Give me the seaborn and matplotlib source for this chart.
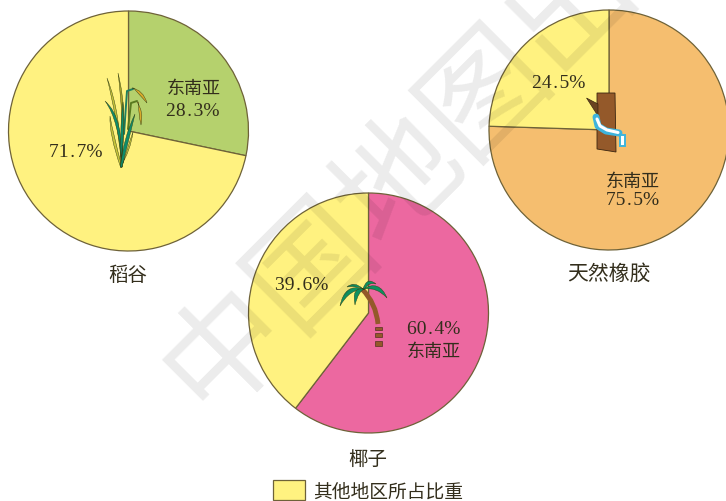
import matplotlib
matplotlib.use("Agg")
import matplotlib.pyplot as plt
import numpy as np
import seaborn as sns
from matplotlib.patches import PathPatch, Polygon
from matplotlib.path import Path

# ---- data ----
crops = ["稻谷", "天然橡胶", "椰子"]
southeast_asia = [28.3, 75.5, 60.4]
other_regions = [71.7, 24.5, 39.6]
sea_label = "东南亚"
legend_label = "其他地区所占比重"
sea_colors = ["#B5D16D", "#F5BE6F", "#EC68A0"]
other_color = "#FFF280"
watermark = "中国地图出版社"

sns.set_theme(style="white")
cjk = ["Noto Sans CJK SC", "DejaVu Sans"]
num = ["Liberation Serif", "Noto Sans CJK SC"]
plt.rcParams["font.family"] = cjk
W, H = 726, 502
ink = "#332E1C"
edge = "#6E6238"

fig = plt.figure(figsize=(W / 100, H / 100), dpi=100, facecolor="white")
centers = [(128.5, 132), (609, 131), (368.5, 314)]
R = 120
legend_wedge = None
for i, (cx, cy) in enumerate(centers):
    ax = fig.add_axes([(cx - R - 2) / W, 1 - (cy + R + 2) / H, (2 * R + 4) / W, (2 * R + 4) / H])
    wedges, _ = ax.pie([southeast_asia[i], other_regions[i]],
                       colors=[sea_colors[i], other_color], startangle=90, counterclock=False,
                       radius=1, wedgeprops=dict(edgecolor=edge, linewidth=0.9))
    ax.set_xlim(-(R + 2) / R, (R + 2) / R)
    ax.set_ylim(-(R + 2) / R, (R + 2) / R)
    legend_wedge = wedges[1]

ov = fig.add_axes([0, 0, 1, 1], facecolor="none")
ov.set_xlim(0, W)
ov.set_ylim(H, 0)
ov.axis("off")


def lab(x, y, s, size=14, fam=num):
    ov.text(x, y, s, ha="center", va="center", fontsize=size, color=ink, family=fam, zorder=6)


def pct(v):
    return f"{v}%".replace(".", "\u200a.\u200a")


def blade(base, ctrl, tip, w, color, z=4):
    b, c, t = map(np.array, (base, ctrl, tip))
    d = t - b
    n = np.array([-d[1], d[0]]) / np.hypot(*d)
    if np.dot(n, c - b) < 0:
        n = -n
    verts = [b, c + n * w, t, c - n * w, b + np.array([1.5, 0]), b]
    codes = [Path.MOVETO, Path.CURVE3, Path.CURVE3, Path.CURVE3, Path.CURVE3, Path.CLOSEPOLY]
    ov.add_patch(PathPatch(Path(verts, codes), fc=color, ec="#2E3A10", lw=0.3, zorder=z))


# rice icon
base = (120.5, 168)
ov.plot([124, 127, 133], [135, 92, 90], color="#1F7F60", lw=1.4, zorder=4)
ov.plot([128, 131, 137], [130, 104, 102], color="#5A7A20", lw=1.4, zorder=4)
for c, t, w, col in [
    ((119, 115), (107, 79), 2.5, "#C4C23A"),
    ((126, 115), (118, 74), 2.5, "#A8A42A"),
    ((111, 135), (110, 117), 2, "#C4C23A"),
    ((129, 150), (133, 133), 2, "#C9C43C"),
    ((122, 120), (105, 102), 3, "#0E8C6A"),
    ((122, 135), (123, 103), 3, "#0E8C6A"),
    ((126, 140), (135, 115), 3, "#0E8C6A"),
]:
    blade(base, c, t, w, col)
blade((132, 89), (141, 93), (147, 104), 3, "#D8A92A", 5)
blade((137, 103), (141, 113), (141, 126), 3, "#D8A92A", 5)

# rubber tree icon
ov.add_patch(Polygon([(597, 94), (615, 94), (616, 153), (597, 150)], fc="#94592A", ec="#3A2510", lw=0.6, zorder=4))
ov.add_patch(Polygon([(586.5, 99), (598, 105), (598, 117)], fc="#6A4420", ec="#2A1A08", lw=0.4, zorder=4))
ov.plot([596, 598, 606, 619], [118, 127, 132, 134], color="#3EB4DC", lw=5, zorder=5, solid_capstyle="round")
ov.plot([597, 600, 607, 618], [120, 127, 131, 133.5], color="white", lw=2.2, zorder=5)
ov.add_patch(Polygon([(619.5, 136), (625, 136), (625, 147), (619.5, 147)], fc="white", ec="#3EB4DC", lw=1.4, zorder=5))

# coconut palm icon
trunk = Path([(362, 290), (376, 304), (378, 325)], [Path.MOVETO, Path.CURVE3, Path.CURVE3])
ov.add_patch(PathPatch(trunk, fc="none", ec="#94592A", lw=3.5, zorder=4))
for y0, y1 in ((328, 331), (334, 338), (342, 347)):
    ov.add_patch(Polygon([(375, y0), (382, y0), (382, y1), (375, y1)], fc="#94592A", ec="#3A2510", lw=0.4, zorder=4))
crown = (363, 290)
for c, t, w in [
    ((347, 287), (340, 307), 4),
    ((355, 290), (355, 306), 4),
    ((378, 284), (387, 299), 4),
    ((354, 284), (347, 288), 2.5),
    ((368, 280), (376, 285), 3),
]:
    blade(crown, c, t, w, "#0E9060")

# annotations
lab(194, 88.5, sea_label, 13, cjk)
lab(193, 111, pct(southeast_asia[0]))
lab(76, 153, pct(other_regions[0]))
lab(559, 83, pct(other_regions[1]))
lab(633, 181.5, sea_label, 13, cjk)
lab(633, 201, pct(southeast_asia[1]))
lab(434, 330, pct(southeast_asia[2]))
lab(434, 351.5, sea_label, 13, cjk)
lab(302, 286, pct(other_regions[2]))
lab(128, 276, crops[0], 14, cjk)
lab(609, 274, crops[1], 15, cjk)
lab(368, 459, crops[2], 14, cjk)

ov.legend([legend_wedge], [legend_label], loc="center", bbox_to_anchor=(368 / W, 1 - 492 / H),
          bbox_transform=fig.transFigure, frameon=False, fontsize=13.5, handlelength=1.7,
          handleheight=1.25, handletextpad=0.43, labelcolor=ink, borderpad=0, borderaxespad=0)

# watermark
ov.text(485, 90, watermark, rotation=45, rotation_mode="anchor", ha="center", va="center",
        fontsize=88, color="black", alpha=0.08, zorder=7, family=cjk)

fig.savefig("out.png", dpi=100)
